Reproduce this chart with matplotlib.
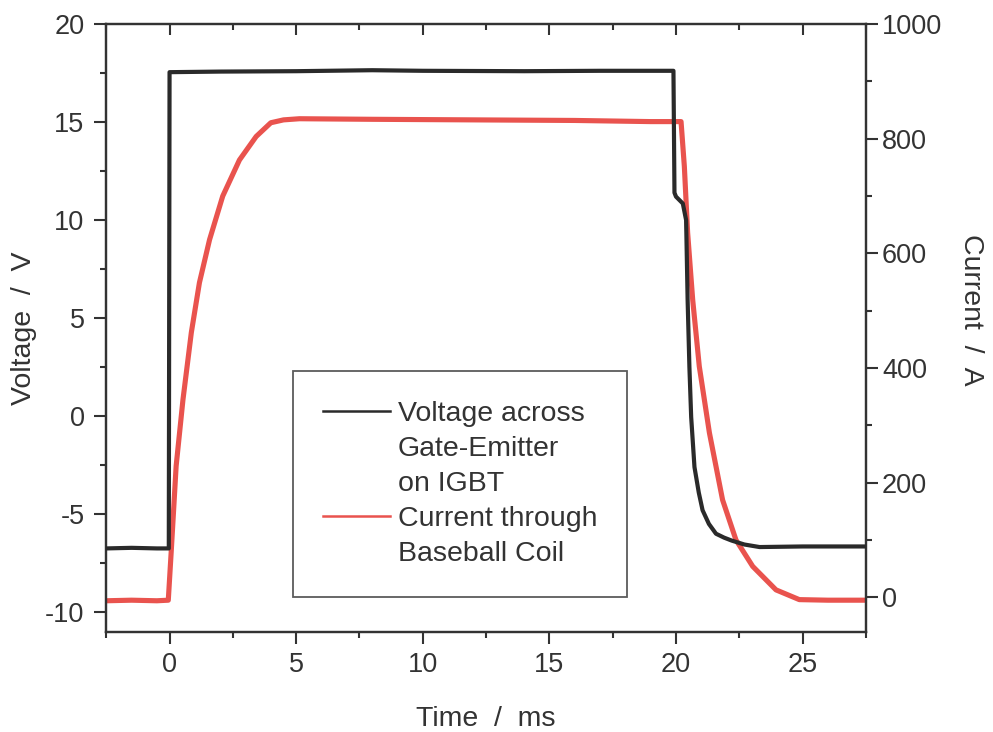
import numpy as np
import matplotlib
matplotlib.use("Agg")
import matplotlib.pyplot as plt
from matplotlib.ticker import MultipleLocator
from matplotlib.lines import Line2D

plt.rcParams['font.family'] = ['Liberation Sans', 'DejaVu Sans']
plt.rcParams['axes.unicode_minus'] = False

# gate-emitter voltage (ms, V)
time_v = [-2.5, -1.5, -0.5, -0.03, 0.0, 2.0, 5.0, 8.0, 10.0, 14.0, 17.0, 19.9,
          19.94, 20.0, 20.27, 20.4, 20.46, 20.53, 20.6, 20.73, 20.9, 21.05,
          21.3, 21.58, 21.9, 22.2, 22.7, 23.3, 25.0, 27.5]
volt = [-6.75, -6.72, -6.75, -6.75, 17.55, 17.58, 17.6, 17.65, 17.62, 17.6,
        17.62, 17.62, 11.4, 11.2, 10.85, 10.0, 5.9, 2.5, -0.05, -2.6, -3.9,
        -4.8, -5.5, -6.0, -6.2, -6.35, -6.55, -6.68, -6.65, -6.65]

# coil current (ms, A)
time_i = [-2.5, -1.5, -0.5, -0.05, 0.07, 0.26, 0.53, 0.86, 1.18, 1.58, 2.1,
          2.76, 3.42, 4.0, 4.5, 5.13, 8.0, 12.0, 16.0, 19.0, 20.2, 20.33,
          20.46, 20.66, 20.92, 21.32, 21.84, 22.37, 23.03, 23.95, 24.87,
          26.0, 27.5]
curr = [-6, -5, -6, -5, 83, 229, 345, 462, 549, 624, 700, 763, 804, 828, 833,
        835, 834, 833, 832, 830, 830, 752, 636, 519, 403, 287, 170, 100, 54,
        13, -4, -5, -5]

v_ticks = [-10, -5, 0, 5, 10, 15, 20]
i_ticks = [0, 200, 400, 600, 800, 1000]
t_ticks = [0, 5, 10, 15, 20, 25]

black = '#2a2a2a'
red = '#e9534e'
grey = '#333333'

fig = plt.figure(figsize=(9.93, 7.32), dpi=100)
ax = fig.add_axes([0.107, 0.137, 0.765, 0.830])
ax2 = ax.twinx()

ax.plot(time_v, volt, color=black, lw=3.0, zorder=3)
ax2.plot(time_i, curr, color=red, lw=3.7, zorder=2)

ax.set_xlim(-2.5, 27.5)
ax.set_ylim(-11, 20)
ax2.set_ylim(-60, 1000)

ax.set_xticks(t_ticks)
ax.set_yticks(v_ticks)
ax2.set_yticks(i_ticks)
ax.xaxis.set_minor_locator(MultipleLocator(2.5))
ax.yaxis.set_minor_locator(MultipleLocator(2.5))
ax2.yaxis.set_minor_locator(MultipleLocator(100))

ax.tick_params(axis='x', which='both', direction='out', labelsize=19.5,
               colors=grey, pad=6)
ax.tick_params(axis='y', which='both', direction='out', labelsize=19.5,
               colors=grey, pad=7)
ax2.tick_params(axis='y', which='both', direction='out', labelsize=19.5,
                colors=grey, pad=3)
for a in (ax, ax2):
    a.tick_params(which='major', length=8.6, width=1.5)
    a.tick_params(which='minor', length=4.5, width=1.5)
    for s in a.spines.values():
        s.set_color(grey)
        s.set_linewidth(1.6)

# top ticks point inward
top = ax.secondary_xaxis('top')
top.set_xticks(t_ticks)
top.xaxis.set_minor_locator(MultipleLocator(2.5))
top.tick_params(which='both', direction='in', labeltop=False, colors=grey,
                width=1.5)
top.tick_params(which='major', length=8)
top.tick_params(which='minor', length=4.5)
top.spines['top'].set_visible(False)

ax.set_xlabel('Time  /  ms', fontsize=20.5, color=grey, labelpad=20)
ax.set_ylabel('Voltage  /  V', fontsize=20.5, color=grey, labelpad=6)
ax2.set_ylabel('Current  /  A', fontsize=20.5, color=grey, rotation=270,
               labelpad=30)
ax2.yaxis.label.set_y(0.53)

# legend: one row per text line, handle only on the first line of each entry
blank = Line2D([], [], color='none')
handles = [Line2D([], [], color=black, lw=1.8), blank, blank,
           Line2D([], [], color=red, lw=1.8), blank]
labels = ['Voltage across', 'Gate-Emitter', 'on IGBT', 'Current through',
          'Baseball Coil']
leg = ax.legend(handles, labels, loc='lower left',
                bbox_to_anchor=(0.246, 0.057), borderaxespad=0,
                fontsize=20.5, frameon=True, fancybox=False,
                edgecolor=grey, handlelength=2.35, handletextpad=0.28,
                labelspacing=0.32, borderpad=1.05)
leg.get_frame().set_linewidth(1.3)
for txt in leg.get_texts():
    txt.set_color(grey)
leg.set_zorder(5)
ax.set_zorder(ax2.get_zorder() + 1)
ax.patch.set_visible(False)

fig.savefig('out.png', dpi=100)
